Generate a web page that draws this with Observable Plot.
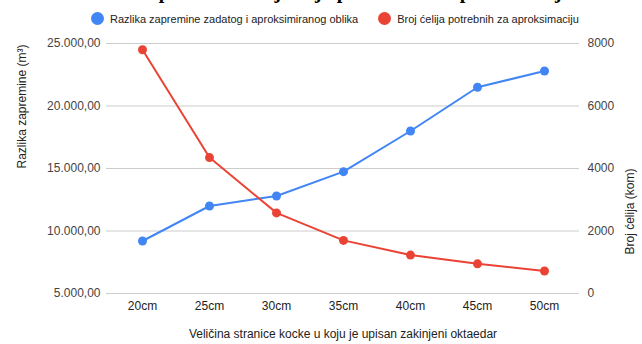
<!DOCTYPE html>
<html>
<head>
<meta charset="utf-8">
<script src="https://cdn.jsdelivr.net/npm/d3@7"></script>
<script src="https://cdn.jsdelivr.net/npm/@observablehq/plot@0.6"></script>
<style>
  html, body { margin: 0; padding: 0; background: #fff; }
  body { width: 642px; height: 344px; overflow: hidden; position: relative; font-family: "Liberation Sans", Arial, sans-serif; }
  #title { position: absolute; left: 0; width: 642px; top: -21px; line-height: 24px; text-align: center; font-family: "Liberation Serif", serif; font-weight: bold; font-size: 20px; color: #000; white-space: nowrap; }
  #legend { position: absolute; top: 12px; left: 91px; font-size: 11px; color: #222; display: flex; align-items: center; white-space: nowrap; }
  #legend .sw { display: inline-block; width: 13px; height: 13px; border-radius: 50%; margin-right: 6px; }
  #legend .item { display: flex; align-items: center; margin-right: 20px; }
  #chart { position: absolute; top: 30px; left: 0; }
</style>
</head>
<body>
<div id="title">Razlika zapremine i broj ćelija potrebnih za aproksimaciju</div>
<div id="legend"></div>
<div id="chart"></div>
<script>
const categories = ["20cm", "25cm", "30cm", "35cm", "40cm", "45cm", "50cm"];
const razlikaZapremine = [9200, 12000, 12800, 14750, 18000, 21500, 22800];
const brojCelija = [7800, 4350, 2580, 1700, 1230, 950, 720];
const leftTicks = [5000, 10000, 15000, 20000, 25000];
const rightTicks = [0, 2000, 4000, 6000, 8000];
const seriesNames = ["Razlika zapremine zadatog i aproksimiranog oblika", "Broj ćelija potrebnih za aproksimaciju"];
const colors = ["#4285F4", "#EA4335"];

const leftDomain = [5000, 25000];
const rightDomain = [0, 8000];
const toLeft = v => leftDomain[0] + (v - rightDomain[0]) / (rightDomain[1] - rightDomain[0]) * (leftDomain[1] - leftDomain[0]);

const loc = d3.formatLocale({decimal: ",", thousands: ".", grouping: [3], currency: ["", ""]});
const fmtLeft = loc.format(",.2f");

const blue = categories.map((c, i) => ({c, v: razlikaZapremine[i]}));
const red = categories.map((c, i) => ({c, v: toLeft(brojCelija[i])}));

const legend = document.getElementById("legend");
seriesNames.forEach((n, i) => {
  const it = document.createElement("div");
  it.className = "item";
  it.innerHTML = `<span class="sw" style="background:${colors[i]}"></span><span>${n}</span>`;
  legend.appendChild(it);
});

const chart = Plot.plot({
  width: 642,
  height: 314,
  marginTop: 13,
  marginBottom: 51,
  marginLeft: 106,
  marginRight: 63,
  style: {fontFamily: "Liberation Sans, Arial, sans-serif", fontSize: "12px", color: "#444", background: "#fff"},
  x: {type: "point", domain: categories, padding: 0.5},
  y: {domain: leftDomain},
  marks: [
    Plot.gridY(leftTicks, {stroke: "#ccc", strokeOpacity: 1}),
    Plot.axisY(leftTicks, {anchor: "left", tickSize: 0, tickPadding: 6, tickFormat: fmtLeft, label: null, fill: "#444"}),
    Plot.axisY(rightTicks.map(toLeft), {anchor: "right", tickSize: 0, tickPadding: 8, tickFormat: (d, i) => String(rightTicks[i]), label: null, fill: "#444"}),
    Plot.axisX(categories, {anchor: "bottom", tickSize: 0, tickPadding: 8, label: null, fill: "#222"}),
    Plot.text(["Razlika zapremine (m³)"], {frameAnchor: "left", dx: -84, rotate: -90, fontSize: 12, fill: "#222"}),
    Plot.text(["Broj ćelija (kom)"], {frameAnchor: "right", dx: 51, rotate: -90, fontSize: 12, fill: "#222"}),
    Plot.text(["Veličina stranice kocke u koju je upisan zakinjeni oktaedar"], {frameAnchor: "bottom", dy: 44, fontSize: 12, fill: "#222"}),
    Plot.line(blue, {x: "c", y: "v", stroke: colors[0], strokeWidth: 2}),
    Plot.dot(blue, {x: "c", y: "v", fill: colors[0], r: 4.5}),
    Plot.line(red, {x: "c", y: "v", stroke: colors[1], strokeWidth: 2}),
    Plot.dot(red, {x: "c", y: "v", fill: colors[1], r: 4.5})
  ]
});
document.getElementById("chart").appendChild(chart);
</script>
</body>
</html>
